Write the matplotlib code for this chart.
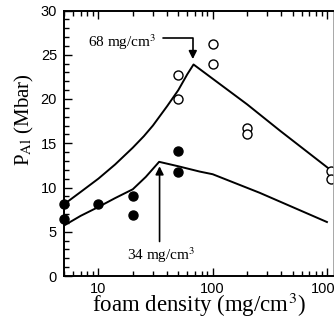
import numpy as np
import matplotlib
matplotlib.use('Agg')
import matplotlib.pyplot as plt
from matplotlib.ticker import MultipleLocator, LogLocator, NullFormatter

plt.rcParams['mathtext.fontset'] = 'stix'

# measured points
filled_x = [5, 5, 10, 20, 20, 50, 50]
filled_y = [8.1, 6.4, 8.1, 9.0, 6.9, 11.7, 14.1]
open_x = [50, 50, 100, 100, 200, 200, 1080, 1080]
open_y = [22.7, 20.0, 26.2, 23.9, 16.7, 16.0, 11.9, 11.0]

# model curves
upper_x = [5, 7, 10, 14, 20, 25, 30, 40, 50, 60, 68, 200, 390, 1000, 1130]
upper_y = [8.1, 9.5, 11.0, 12.6, 14.5, 15.8, 17.0, 19.2, 21.0, 22.8, 23.9,
           19.4, 16.4, 12.3, 11.8]
lower_x = [5, 7, 10, 14, 20, 26, 34, 50, 77, 100, 258, 1000]
lower_y = [5.7, 6.8, 7.8, 8.8, 9.8, 11.2, 12.9, 12.4, 11.8, 11.5, 9.4, 6.1]

fig = plt.figure(figsize=(3.34, 3.22), dpi=100)
ax = fig.add_axes([64 / 334, 1 - 276 / 322, 269 / 334, 265.5 / 322])

ax.plot(upper_x, upper_y, color='black', lw=1.4)
ax.plot(lower_x, lower_y, color='black', lw=1.4)
ax.plot(filled_x, filled_y, 'o', color='black', ms=6.5, clip_on=False)
ax.plot(open_x, open_y, 'o', mfc='white', mec='black', mew=1.0, ms=6.5, clip_on=False)

ax.set_xscale('log')
ax.set_xlim(5, 1130)
ax.set_ylim(0, 30)

ax.yaxis.set_major_locator(MultipleLocator(5))
ax.yaxis.set_minor_locator(MultipleLocator(1))
ax.xaxis.set_minor_locator(LogLocator(base=10, subs=np.arange(2, 10), numticks=20))
ax.xaxis.set_minor_formatter(NullFormatter())
ax.set_xticks([10, 100, 1000])
ax.set_xticklabels(['10', '100', '1000'])

ax.tick_params(which='both', direction='in', top=True, right=False,
               labelsize=10.5, width=1.0)
ax.tick_params(which='major', length=6)
ax.tick_params(which='minor', length=3.5)
ax.tick_params(axis='y', pad=5)
ax.tick_params(axis='x', pad=4)
for lab in ax.get_xticklabels() + ax.get_yticklabels():
    lab.set_fontfamily('Liberation Sans')

for side in ['left', 'bottom', 'top']:
    ax.spines[side].set_linewidth(1.4)
ax.spines['right'].set_linewidth(0.6)
ax.spines['right'].set_color('#999999')

ax.set_xlabel('foam density (mg/cm$^3$)', fontfamily='Liberation Serif',
              fontsize=16.5, labelpad=-3.5)
fig.text(24 / 334, 1 - 120 / 322, 'P$_{\\mathrm{Al}}$ (Mbar)',
         fontfamily='Liberation Serif', fontsize=15, rotation=90,
         ha='center', va='center')

ax.text(16.1, 26.4, '68 mg/cm$^3$', fontfamily='Liberation Serif', fontsize=11,
        ha='center', va='center')
ax.annotate('', xy=(67, 24.5), xytext=(37, 26.9),
            arrowprops=dict(arrowstyle='-|>', color='black', lw=1.2,
                            mutation_scale=12, shrinkA=0, shrinkB=0,
                            connectionstyle='angle,angleA=0,angleB=90,rad=0'))

ax.text(35.7, 2.4, '34 mg/cm$^3$', fontfamily='Liberation Serif', fontsize=11,
        ha='center', va='center')
ax.annotate('', xy=(34.3, 12.4), xytext=(34.3, 3.9),
            arrowprops=dict(arrowstyle='-|>', color='black', lw=1.2,
                            mutation_scale=12, shrinkA=0, shrinkB=0))

fig.savefig('out.png', dpi=100)
